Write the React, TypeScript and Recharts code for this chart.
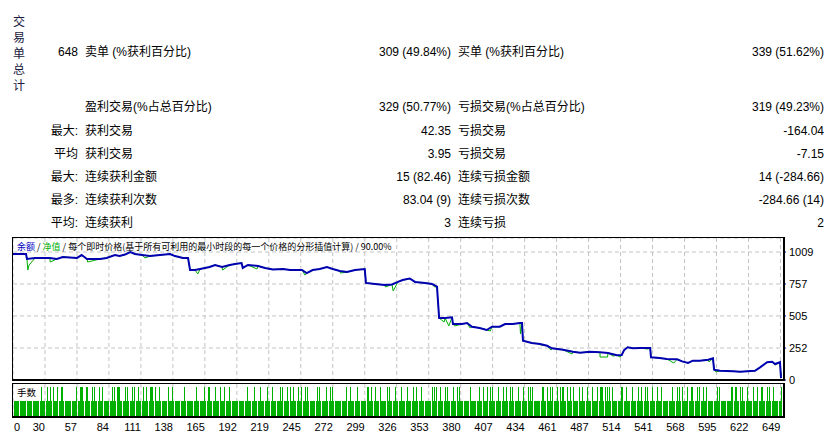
import React from "react"
import { LineChart, Line, BarChart, Bar, XAxis, YAxis, CartesianGrid } from "recharts"

const W = 839
const H = 434

const LATIN = '"Liberation Sans", "Noto Sans CJK SC", sans-serif'
const NARROW = '"Liberation Sans Narrow", "Liberation Sans", sans-serif'
const CJK = '"Noto Sans CJK SC", "Liberation Sans", sans-serif'

const BLUE = "#0000b0"
const GREEN = "#00b000"
const GRID = "#c4c4c4"

// summary table
const captionChars = ["交", "易", "单", "总", "计"]
const leadLabels = ["648", "", "最大:", "平均", "最大:", "最多:", "平均:"]
const leftLabels = ["卖单 (%获利百分比)", "盈利交易(%占总百分比)", "获利交易", "获利交易", "连续获利金额", "连续获利次数", "连续获利"]
const leftValues = ["309 (49.84%)", "329 (50.77%)", "42.35", "3.95", "15 (82.46)", "83.04 (9)", "3"]
const rightLabels = ["买单 (%获利百分比)", "亏损交易(%占总百分比)", "亏损交易", "亏损交易", "连续亏损金额", "连续亏损次数", "连续亏损"]
const rightValues = ["339 (51.62%)", "319 (49.23%)", "-164.04", "-7.15", "14 (-284.66)", "-284.66 (14)", "2"]
const rowCenters = [52, 107, 131, 154, 177, 200, 223]

// axes
const xGridTicks = [0, 27, 54, 81, 108, 135, 162, 189, 216, 243, 270, 297, 324, 351, 378, 405, 432, 459, 486, 513, 540, 567, 594, 621, 648]
const xTickLabels = ["0", "30", "57", "84", "111", "138", "165", "192", "219", "245", "272", "299", "326", "353", "380", "407", "434", "461", "487", "514", "541", "568", "595", "622", "649"]
const yTicks = [0, 252, 505, 757, 1009]

// balance curve: [trade #, balance]
const balancePoints: [number, number][] = [
  [0, 993], [11, 993], [11.8, 954], [18.6, 962], [27, 962], [31, 962], [37, 954], [42, 970], [54, 962], [58, 985],
  [62.5, 954], [73.5, 954], [79, 962], [86, 985], [90, 977], [94.6, 989], [99, 1009], [103, 993], [109, 985], [115.7, 977],
  [124, 985], [132.6, 993], [136.8, 977], [143.5, 962], [147.8, 962], [149.5, 867], [153.7, 867], [158, 875], [166, 891], [170.6, 907],
  [176.5, 891], [183, 907], [187.5, 914], [193, 922], [194, 883], [198.4, 907], [207, 899], [212.8, 883], [219.5, 871], [228, 875],
  [234, 867], [244, 867], [248, 843], [253, 867], [259, 875], [265, 891], [270, 875], [276, 859], [282, 851], [288.8, 867],
  [297, 875], [298, 765], [305.7, 757], [314, 749], [320, 753], [325, 773], [329, 788], [335, 800], [339.5, 773], [347.9, 765],
  [353.8, 757], [358, 736], [359.8, 489], [364.8, 489], [370.7, 494], [371.5, 441], [379, 441], [383.4, 449], [387.6, 420], [394, 410],
  [400, 394], [404.5, 420], [411, 420], [415.5, 441], [422, 441], [428, 449], [429.8, 449], [430.6, 310], [438, 292], [445, 284],
  [451, 270], [455, 250], [464.4, 239], [472.8, 223], [478.8, 215], [487, 223], [495.6, 218], [502.4, 213], [510, 195], [514, 197],
  [516, 236], [519, 258], [523.5, 250], [529.5, 252], [538, 252], [538.7, 179], [546, 173], [552, 166], [560.7, 163], [565, 147],
  [570, 134], [574, 152], [580, 152], [587, 160], [591, 171], [592, 81], [597, 73], [608, 69], [614, 65], [620, 69],
  [626.5, 73], [630.8, 100], [636.7, 140], [641, 144], [643.4, 126], [647.6, 140], [648.5, 16],
]

// equity drawdowns below the balance: [trade #, equity]
const equityDips: [number, number][] = [
  [12.5, 867], [13.5, 905], [31.5, 930], [63, 930], [111.5, 962], [156, 836], [177, 867], [206, 875], [246.6, 827], [276.5, 843],
  [314.5, 733], [321, 702], [356, 733], [364, 457], [368, 426], [373, 426], [386, 410], [403, 386], [428.5, 363], [445.5, 276],
  [454.3, 236], [472, 205], [495.7, 181], [502, 181], [506.6, 189], [512.6, 181], [536.2, 244], [558, 134], [587.7, 142], [593.6, 63],
  [643.6, 118], [648.6, 63],
]

// lot sizes: all trades 0.01 except these, which are 0.02
const tradeCount = 649
const baseLot = 0.01
const doubleLot = 0.02
const doubleLotTrades = [
  24, 29, 32, 34, 38, 41, 42, 54, 57, 58, 59, 62, 63, 67, 69, 73, 76, 84, 86, 88, 89, 90, 95, 97, 101, 103, 106, 110, 113, 116,
  117, 118, 120, 124, 131, 135, 145, 155, 162, 165, 166, 171, 175, 179, 183, 198, 204, 209, 215, 219, 226, 228, 232, 234, 237, 241,
  244, 247, 249, 257, 259, 265, 268, 270, 282, 285, 291, 299, 300, 303, 306, 310, 316, 318, 323, 328, 333, 338, 341, 345, 354, 356,
  358, 361, 365, 367, 372, 375, 377, 386, 394, 397, 401, 403, 405, 410, 414, 417, 420, 422, 427, 431, 435, 437, 439, 447, 448, 451,
  454, 456, 460, 462, 464, 465, 468, 471, 473, 478, 481, 485, 489, 494, 496, 497, 498, 500, 502, 504, 506, 514, 515, 518, 523, 528,
  531, 534, 536, 540, 544, 548, 557, 561, 563, 565, 570, 573, 574, 578, 580, 583, 586, 595, 597, 607, 608, 610, 611, 614, 616, 620,
  625, 629, 632, 633, 637, 639, 642, 649,
]

const balanceData = balancePoints.map(([t, v]) => ({ t, v }))
const equityData = [...balancePoints, ...equityDips]
  .sort((a, b) => a[0] - b[0])
  .map(([t, v]) => ({ t, v }))
const volumeData = Array.from({ length: tradeCount }, (_, i) => ({
  t: i + 1,
  lots: doubleLotTrades.includes(i + 1) ? doubleLot : baseLot,
}))

function XTick(props: any) {
  const { x, y, payload } = props
  const i = xGridTicks.indexOf(payload.value)
  const first = i === 0
  return (
    <text
      x={first ? x + 1 : x}
      y={y + 9}
      textAnchor={first ? "start" : "end"}
      dominantBaseline="central"
      fontSize={11}
      fontFamily={NARROW}
      fill="#000"
    >
      {xTickLabels[i]}
    </text>
  )
}

const abs = (s: React.CSSProperties): React.CSSProperties => ({ position: "absolute", whiteSpace: "nowrap", ...s })

export default function App() {
  return (
    <div style={{ position: "absolute", left: 0, top: 0, width: W, height: H, background: "#fff", overflow: "hidden", fontFamily: LATIN, color: "#000" }}>
      <style>{`.vol path { shape-rendering: crispEdges; }`}</style>

      {captionChars.map((c, i) => (
        <div key={c} style={abs({ left: 11, top: 13 + i * 16, width: 16, lineHeight: "16px", fontSize: 12, textAlign: "center", fontFamily: CJK, color: "#1a1a40" })}>
          {c}
        </div>
      ))}

      {rowCenters.map((cy, i) => (
        <React.Fragment key={i}>
          <div style={abs({ left: 0, width: 78, top: cy - 8, lineHeight: "16px", fontSize: 12, textAlign: "right" })}>{leadLabels[i]}</div>
          <div style={abs({ left: 85, top: cy - 8, lineHeight: "16px", fontSize: 12 })}>{leftLabels[i]}</div>
          <div style={abs({ left: 300, width: 151, top: cy - 8, lineHeight: "16px", fontSize: 12, textAlign: "right" })}>{leftValues[i]}</div>
          <div style={abs({ left: 458, top: cy - 8, lineHeight: "16px", fontSize: 12 })}>{rightLabels[i]}</div>
          <div style={abs({ left: 600, width: 224, top: cy - 8, lineHeight: "16px", fontSize: 12, textAlign: "right" })}>{rightValues[i]}</div>
        </React.Fragment>
      ))}

      <div style={abs({ left: 0, top: 0 })}>
        <LineChart width={W} height={H} margin={{ top: 238, right: 0, bottom: 54, left: 13 }}>
          <CartesianGrid stroke={GRID} strokeDasharray="4 3" />
          <XAxis type="number" dataKey="t" domain={[0, 651]} ticks={xGridTicks} hide allowDataOverflow />
          <YAxis
            orientation="right"
            domain={[0, 1119.4]}
            ticks={yTicks}
            width={55}
            axisLine={false}
            tickSize={2}
            tickMargin={3}
            tickLine={{ stroke: BLUE }}
            tick={{ fill: "#000", fontSize: 11, fontFamily: NARROW }}
            allowDataOverflow
          />
          <Line data={equityData} dataKey="v" type="linear" stroke={GREEN} strokeWidth={1} dot={false} isAnimationActive={false} />
          <Line data={balanceData} dataKey="v" type="linear" stroke={BLUE} strokeWidth={2} dot={false} isAnimationActive={false} />
        </LineChart>
      </div>

      <div className="vol" style={abs({ left: 0, top: 0 })}>
        <BarChart width={W} height={H} data={volumeData} margin={{ top: 384, right: 55, bottom: 0, left: 13 }}>
          <CartesianGrid horizontal={false} stroke={GRID} strokeDasharray="4 3" />
          <XAxis
            type="number"
            dataKey="t"
            domain={[0, 651]}
            ticks={xGridTicks}
            interval={0}
            axisLine={false}
            tickLine={false}
            tickSize={0}
            height={18}
            tick={<XTick />}
            allowDataOverflow
          />
          <YAxis hide domain={[0, 0.022]} />
          <Bar dataKey="lots" fill={GREEN} barSize={1} isAnimationActive={false} />
        </BarChart>
      </div>

      {/* panel frames */}
      <div style={abs({ left: 12, top: 237, width: 773, height: 144, boxSizing: "border-box", borderTop: "1px solid #000", borderLeft: "1px solid #000", borderRight: "2px solid #000", borderBottom: "2px solid #000" })} />
      <div style={abs({ left: 12, top: 383, width: 773, height: 35, boxSizing: "border-box", borderTop: "1px solid #000", borderLeft: "1px solid #000", borderRight: "2px solid #000", borderBottom: "2px solid #000" })} />

      <div style={abs({ left: 17, top: 240, lineHeight: "14px", fontSize: 9, fontFamily: CJK })}>
        <span style={{ color: "#0000c0" }}>余额</span>
        {" / "}
        <span style={{ color: GREEN }}>净值</span>
        {" / 每个即时价格(基于所有可利用的最小时段的每一个价格的分形插值计算) / 90.00%"}
      </div>
      <div style={abs({ left: 17, top: 385, lineHeight: "14px", fontSize: 9.5, fontFamily: CJK })}>手数</div>
    </div>
  )
}
